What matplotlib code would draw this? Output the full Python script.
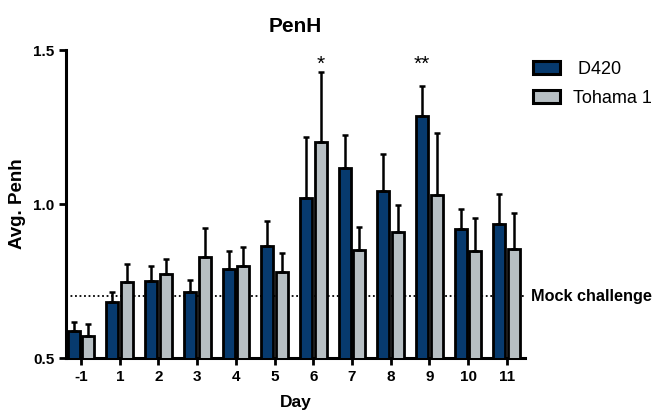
import matplotlib
matplotlib.use("Agg")
import matplotlib.pyplot as plt
import numpy as np
from matplotlib.patches import Patch

days = ["-1", "1", "2", "3", "4", "5", "6", "7", "8", "9", "10", "11"]
d420_mean = [0.588, 0.683, 0.749, 0.714, 0.789, 0.864, 1.019, 1.117, 1.043, 1.285, 0.918, 0.936]
d420_top = [0.616, 0.715, 0.798, 0.754, 0.847, 0.945, 1.217, 1.223, 1.163, 1.382, 0.984, 1.032]
toh_mean = [0.572, 0.746, 0.772, 0.827, 0.798, 0.778, 1.200, 0.850, 0.909, 1.030, 0.847, 0.855]
toh_top = [0.609, 0.804, 0.820, 0.921, 0.859, 0.842, 1.428, 0.924, 0.998, 1.229, 0.955, 0.970]
mock_level = 0.70
series_names = ["D420", "Tohama 1"]
sig_marks = [("*", 6, 1), ("**", 9, 0)]  # (text, group index, series index)
sig_level = 1.455

dark = "#073a6e"
gray = "#b7bfc3"

plt.rcParams['font.family'] = ['Liberation Sans', 'DejaVu Sans']

fig = plt.figure(figsize=(6.53, 4.13), dpi=100)
ax = fig.add_axes([66/653, 1-358/413, (525-66)/653, (358-50)/413])

x = np.arange(len(days))
w = 0.31
off = 0.19
d_err = np.array(d420_top) - np.array(d420_mean)
t_err = np.array(toh_top) - np.array(toh_mean)

ekw = dict(elinewidth=1.8, capthick=1.8, ecolor="black")
ax.bar(x - off, d420_mean, w, bottom=0, color=dark, edgecolor="black", linewidth=2.0,
       yerr=[np.zeros_like(d_err), d_err], capsize=2.5, error_kw=ekw, zorder=3)
ax.bar(x + off, toh_mean, w, bottom=0, color=gray, edgecolor="black", linewidth=2.0,
       yerr=[np.zeros_like(t_err), t_err], capsize=2.5, error_kw=ekw, zorder=3)

ax.axhline(mock_level, color="black", linestyle=(0, (1, 1.5)), linewidth=1.3, zorder=2)
ax.annotate("Mock challenge", xy=(1.013, mock_level), xycoords=("axes fraction", "data"),
            fontsize=11.7, fontweight="bold", va="center", ha="left", annotation_clip=False)

ax.set_xlim(-0.39, 11.47)
ax.set_ylim(0.5, 1.5)
ax.set_yticks([0.5, 1.0, 1.5])
ax.set_yticklabels(["0.5", "1.0", "1.5"])
ax.set_xticks(x)
ax.set_xticklabels(days)
for lab in ax.get_xticklabels() + ax.get_yticklabels():
    lab.set_fontweight("bold")
    lab.set_fontsize(11)
ax.tick_params(axis="both", width=2, length=5, direction="out")
for s in ["top", "right"]:
    ax.spines[s].set_visible(False)
for s in ["left", "bottom"]:
    ax.spines[s].set_linewidth(2.2)

ax.set_ylabel("Avg. Penh", fontsize=13.5, fontweight="bold", labelpad=5)
ax.set_xlabel("Day", fontsize=12.5, fontweight="bold", labelpad=8)
ax.set_title("PenH", fontsize=15, fontweight="bold", pad=13)

for txt, gi, si in sig_marks:
    xx = gi + (off if si == 1 else -off)
    ax.text(xx, sig_level, txt, fontsize=15, ha="center", va="center", clip_on=False)

handles = [Patch(facecolor=dark, edgecolor="black", linewidth=2.2),
           Patch(facecolor=gray, edgecolor="black", linewidth=2.2)]
leg = fig.legend(handles, [" " + series_names[0], series_names[1]], loc="upper left",
                 bbox_to_anchor=(533/653, 1-61/413),
                 frameon=False, fontsize=13, handlelength=1.5, handleheight=0.7,
                 labelspacing=0.66, handletextpad=0.7, borderpad=0, borderaxespad=0)

fig.savefig("out.png", dpi=100)
